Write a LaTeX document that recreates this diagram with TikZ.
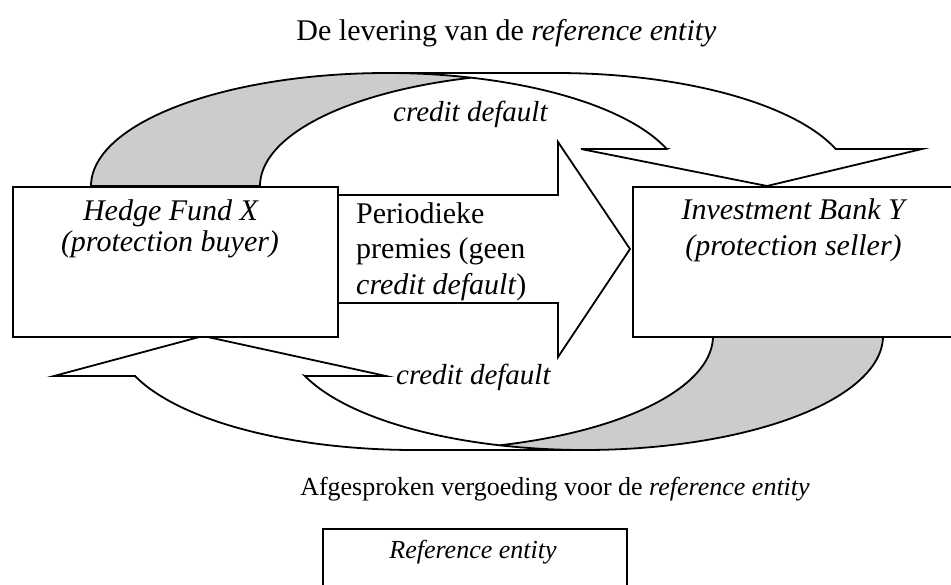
\documentclass[tikz,border=0pt]{standalone}
\usepackage{fontspec}
\setmainfont{Liberation Serif}
\begin{document}
\begin{tikzpicture}[x=1pt,y=-1pt,
  edge/.style={line width=1.8pt, line join=miter, miter limit=10},
  backfill/.style={fill=black!20},
  frontfill/.style={fill=white},
  box/.style={draw, line width=1.8pt, fill=white, inner sep=0pt, anchor=north west},
  txt/.style={inner sep=0pt, font=\fontsize{30}{35}\selectfont},
  cdtxt/.style={inner sep=0pt, font=\fontsize{29}{34}\selectfont},
  stxt/.style={inner sep=0pt, font=\fontsize{26}{30}\selectfont}]
\useasboundingbox (0,0) rectangle (951,584);
\clip (0,0) rectangle (951,584);

% ---------- top curved arrow (Hedge Fund X -> Investment Bank Y) ----------
\fill[backfill]
  plot[domain=180:286.59, samples=80] ({387+296*cos(\x)},{186+113*sin(\x)})
  -- plot[domain=253.41:180, samples=80] ({556+296*cos(\x)},{186+113*sin(\x)})
  -- cycle;
\fill[frontfill] (767,186) -- (581,149) -- (666.7,149)
  -- plot[domain=340.89:270, samples=80] ({387+296*cos(\x)},{186+113*sin(\x)})
  -- plot[domain=270:340.89, samples=80] ({556+296*cos(\x)},{186+113*sin(\x)})
  -- (922,149) -- cycle;
\draw[edge]
  plot[domain=253.41:180, samples=80] ({556+296*cos(\x)},{186+113*sin(\x)})
  -- (91,186)
  -- plot[domain=180:270, samples=80] ({387+296*cos(\x)},{186+113*sin(\x)})
  -- plot[domain=270:340.89, samples=80] ({556+296*cos(\x)},{186+113*sin(\x)})
  -- (922,149) -- (767,186) -- (581,149) -- (666.7,149)
  -- plot[domain=340.89:270, samples=80] ({387+296*cos(\x)},{186+113*sin(\x)});

% ---------- bottom curved arrow (Investment Bank Y -> Hedge Fund X) ----------
\fill[backfill]
  plot[domain=73.46:0, samples=80] ({414.5+298.5*cos(\x)},{336+114*sin(\x)})
  -- (883,336)
  -- plot[domain=0:106.54, samples=80] ({584.5+298.5*cos(\x)},{336+114*sin(\x)})
  -- cycle;
\fill[frontfill] (203,336) -- (386,376) -- (305,376)
  -- plot[domain=159.46:90, samples=80] ({584.5+298.5*cos(\x)},{336+114*sin(\x)})
  -- plot[domain=90:159.46, samples=80] ({414.5+298.5*cos(\x)},{336+114*sin(\x)})
  -- (54,376) -- cycle;
\draw[edge]
  plot[domain=73.46:0, samples=80] ({414.5+298.5*cos(\x)},{336+114*sin(\x)})
  -- (883,336)
  -- plot[domain=0:90, samples=80] ({584.5+298.5*cos(\x)},{336+114*sin(\x)})
  -- plot[domain=90:159.46, samples=80] ({414.5+298.5*cos(\x)},{336+114*sin(\x)})
  -- (54,376) -- (203,336) -- (386,376) -- (305,376)
  -- plot[domain=159.46:90, samples=80] ({584.5+298.5*cos(\x)},{336+114*sin(\x)});

% ---------- middle block arrow ----------
\draw[edge, frontfill] (337,195) -- (558,195) -- (558,142) -- (630,249)
  -- (558,357) -- (558,303) -- (337,303);

% ---------- boxes ----------
\node[box, minimum width=325pt, minimum height=150pt] (hf) at (12,186) {};
\node[box, minimum width=325pt, minimum height=150pt] (ib) at (632,186) {};
\node[box, minimum width=304pt, minimum height=90pt] (re) at (322,528) {};

% ---------- texts ----------
\node[txt, anchor=base] (title) at (506.5,40) {De levering van de \textit{reference entity}};
\node[cdtxt, anchor=base west] (cdtop) at (393,121) {\textit{credit default}};
\node[cdtxt, anchor=base west] (cdbot) at (396,384) {\textit{credit default}};
\node[txt, anchor=base west] (p1) at (356,223) {Periodieke};
\node[txt, anchor=base west] (p2) at (356,258.5) {premies (geen};
\node[txt, anchor=base west] (p3) at (356,294) {\textit{credit default})};
\node[txt, anchor=base] (hf1) at (171,220) {\textit{Hedge Fund X}};
\node[txt, anchor=base] (hf2) at (170,251) {\textit{(protection buyer)}};
\node[txt, anchor=base] (ib1) at (794.5,219) {\textit{Investment Bank Y}};
\node[txt, anchor=base] (ib2) at (793.5,255) {\textit{(protection seller)}};
\node[stxt, anchor=base] (afg) at (555,495) {Afgesproken vergoeding voor de \textit{reference entity}};
\node[stxt, anchor=base] (ref1) at (473,558) {\textit{Reference entity}};
\end{tikzpicture}
\end{document}
